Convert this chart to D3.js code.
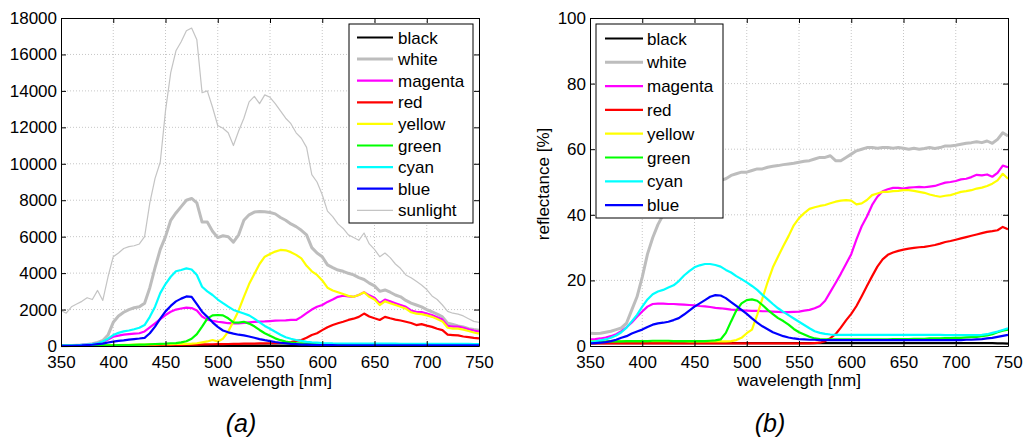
<!DOCTYPE html>
<html>
<head>
<meta charset="utf-8">
<script src="https://cdn.jsdelivr.net/npm/d3@7"></script>
<style>
  html, body { margin: 0; padding: 0; background: #fff; }
  svg { display: block; }
  text { font-family: "Liberation Sans", Arial, sans-serif; }
</style>
</head>
<body>
<svg id="chart" width="1024" height="439"></svg>
<script>
// ---------------- DATA ----------------
const wavelengths = [350,355,360,365,370,375,380,385,390,395,400,405,410,415,420,425,430,435,440,445,450,455,460,465,470,475,480,485,490,495,500,505,510,515,520,525,530,535,540,545,550,555,560,565,570,575,580,585,590,595,600,605,610,615,620,625,630,635,640,645,650,655,660,665,670,675,680,685,690,695,700,705,710,715,720,725,730,735,740,745,750];

const xTicks = [350,400,450,500,550,600,650,700,750];
const yTicksA = [0,2000,4000,6000,8000,10000,12000,14000,16000,18000];
const yTicksB = [0,20,40,60,80,100];

const seriesNamesA = ["black","white","magenta","red","yellow","green","cyan","blue","sunlight"];
const seriesNamesB = ["black","white","magenta","red","yellow","green","cyan","blue"];

// Panel (a): irradiance counts
const blackA = [20,20,20,20,20,20,20,20,20,20,20,20,20,20,20,20,20,20,20,20,20,20,20,20,20,20,20,20,20,20,20,20,20,20,20,20,20,20,20,20,20,20,20,20,20,20,20,20,20,20,20,20,20,20,20,20,20,20,20,20,20,20,20,20,20,20,20,20,20,20,20,20,20,20,20,20,20,20,20,20,20];
const whiteA = [20,20,30,40,50,80,120,200,300,600,1300,1650,1850,2000,2100,2150,2350,3200,4300,5300,6000,6900,7300,7650,8000,8100,7850,6800,6800,6300,5950,6050,6000,5700,6100,6900,7200,7350,7380,7370,7330,7250,7050,6900,6700,6550,6350,6100,5400,5100,4900,4450,4300,4170,4100,3990,3900,3750,3650,3450,3300,3000,3075,2950,2800,2700,2500,2350,2250,2150,2000,1880,1750,1600,1250,1180,1100,1050,950,900,860];
const magentaA = [20,25,30,40,60,80,100,140,200,350,510,570,620,650,680,700,800,1020,1245,1480,1700,1880,2000,2060,2110,2080,1950,1620,1450,1380,1330,1300,1250,1245,1245,1270,1300,1320,1340,1350,1370,1390,1400,1410,1430,1430,1600,1800,2000,2150,2250,2420,2550,2700,2760,2720,2700,2800,2950,2780,2650,2350,2550,2450,2350,2250,2150,1950,1880,1860,1780,1700,1580,1450,1100,1060,1060,1000,920,850,790];
const redA = [10,10,10,12,12,14,15,16,18,20,22,24,26,28,30,32,35,38,42,46,50,55,60,65,70,75,80,85,90,95,100,105,110,115,120,125,130,135,140,145,150,160,170,190,220,280,330,450,600,700,870,1030,1150,1250,1330,1430,1500,1600,1780,1620,1520,1430,1600,1520,1450,1400,1330,1260,1150,1200,1120,1050,950,870,620,600,580,520,490,450,420];
const yellowA = [10,12,15,18,20,25,30,35,40,45,50,55,60,65,70,75,80,85,90,95,100,105,110,115,120,130,150,200,250,330,250,400,790,1350,1950,2700,3400,3950,4500,4900,5050,5180,5270,5250,5150,5000,4810,4400,4100,3900,3600,3200,3050,2950,2850,2750,2700,2800,2950,2700,2550,2250,2450,2350,2250,2150,2050,1850,1780,1750,1680,1600,1480,1350,1000,950,950,900,820,740,680];
const greenA = [5,7,10,12,15,17,20,25,30,35,40,45,50,55,60,70,80,95,110,120,130,150,160,200,260,400,650,1060,1500,1680,1700,1680,1520,1300,1280,1330,1230,1080,880,700,560,420,320,240,190,160,140,125,110,105,100,98,95,92,90,88,86,84,82,80,78,76,75,74,73,72,71,70,69,68,67,66,65,64,63,62,61,61,60,60,60];
const cyanA = [30,30,40,40,60,80,100,140,250,400,600,720,800,850,920,1000,1150,1600,2160,2900,3400,3800,4100,4170,4260,4200,3900,3250,3000,2800,2550,2350,2160,1980,1880,1780,1680,1500,1300,1100,950,780,620,480,400,330,280,230,200,180,160,150,140,138,136,134,132,130,130,128,128,126,126,125,125,124,124,123,123,122,122,121,121,120,120,118,116,114,112,110,110];
const blueA = [10,10,15,20,30,50,70,100,130,190,240,280,310,350,380,410,450,700,1060,1500,1900,2200,2450,2600,2720,2700,2300,1880,1600,1300,1050,850,750,680,620,580,520,450,380,320,270,220,180,150,120,100,80,70,60,50,45,44,43,42,42,41,41,40,40,40,40,39,39,38,38,37,37,36,36,35,35,35,34,34,33,33,32,32,31,31,30];
const sunlightA = [1950,1800,2150,2300,2450,2650,2550,3050,2500,3800,4900,5100,5350,5450,5500,5600,6000,7850,9200,10100,12900,15000,16200,16700,17300,17450,16800,13900,14000,13100,12100,11950,11700,11000,11800,12500,13400,13700,13300,13780,13650,13300,12900,12500,12200,11700,11400,10900,9400,9000,8300,7400,7100,6700,6450,6100,5950,5800,6200,5600,5300,4900,5100,4850,4500,4250,3900,3750,3550,3350,3100,2750,2550,2250,1900,1800,1750,1650,1500,1350,1300];

// Panel (b): reflectance [%]
const blackB = [0.9,0.9,0.9,0.9,0.9,0.9,0.9,0.9,0.9,0.9,0.9,0.9,0.9,0.9,0.9,0.9,0.9,0.9,0.9,0.9,0.9,0.9,0.9,0.9,0.9,0.9,0.9,0.9,0.9,0.9,0.9,0.9,0.9,0.9,0.9,0.9,0.9,0.9,0.9,0.9,0.9,0.9,0.9,0.9,0.9,0.9,0.9,0.9,0.9,0.9,0.9,0.9,0.9,0.9,0.9,0.9,0.9,0.9,0.9,0.9,0.9,0.9,0.9,0.9,0.9,0.9,0.9,0.9,0.9,0.9,0.9,0.9,0.9,0.9,0.9,0.9,0.9,0.9,0.8,0.8,0.7];
const whiteB = [3.9,3.8,3.9,4.2,4.5,5.0,5.5,7.0,11,15,21,28,33,37,40,42,43.5,44.5,45.5,46.5,47,47.5,48,49,50,50.5,51,52,52.5,53,53,53.5,54,54,54.5,54.8,55,55.3,55.5,55.7,56,56.3,56.5,57,57.5,57.5,58,56.5,56.5,57.5,58.5,59.5,60,60.5,60.5,60.3,60.5,60.5,60.3,60.5,60.3,60,60.3,60,60.2,60.5,60.2,60.5,61,61,61.2,61.5,61.8,62,62.3,62,62.5,61.8,63,65,64];
const magentaB = [2.0,2.1,2.3,2.6,3.0,3.6,4.5,5.7,7.2,8.9,10.5,12.0,12.8,12.9,12.9,12.8,12.8,12.7,12.6,12.5,12.4,12.2,12.1,11.9,11.6,11.5,11.3,11.1,11.0,10.9,10.8,10.7,10.7,10.6,10.6,10.5,10.4,10.3,10.3,10.4,10.5,10.8,11.0,11.5,12.2,13.8,16.5,19.2,22.0,25.0,28.0,32.5,36.5,39.5,43.0,45.5,47.2,47.8,48.2,48.2,48.0,48.3,48.4,48.5,48.4,48.6,48.8,49.3,49.8,50.0,50.3,50.8,51.0,51.5,52.2,52.0,52.3,51.6,52.8,55.0,54.5];
const redB = [0.8,0.8,0.8,0.8,0.8,0.8,0.8,0.8,0.8,0.8,0.8,0.8,0.8,0.8,0.8,0.8,0.8,0.8,0.8,0.8,0.8,0.8,0.8,0.8,0.8,0.8,0.8,0.8,0.8,0.8,0.8,0.8,0.8,0.8,0.8,0.8,0.8,0.8,0.8,0.8,0.8,0.8,0.8,0.9,1.0,1.5,2.4,3.6,5.6,7.8,9.8,12.2,15.2,18.3,21.3,24.2,26.4,27.8,28.5,29.0,29.4,29.7,29.9,30.1,30.2,30.5,30.8,31.2,31.7,32.0,32.4,32.8,33.2,33.6,34.0,34.4,34.8,35.0,35.3,36.3,35.6];
const yellowB = [1.5,1.5,1.5,1.5,1.5,1.5,1.5,1.5,1.5,1.5,1.5,1.5,1.5,1.5,1.5,1.5,1.5,1.5,1.5,1.4,1.4,1.4,1.4,1.4,1.4,1.4,1.4,1.5,1.8,2.5,3.9,5.0,9.5,14.5,19.5,24.0,27.3,30.5,33.5,36.8,39.0,40.5,41.8,42.3,42.7,43.0,43.5,44.0,44.3,44.5,44.3,43.2,43.5,44.5,46.0,46.5,47.0,47.0,47.2,47.3,47.5,47.5,47.3,47.0,46.7,46.2,45.8,45.5,45.8,46.0,46.5,47.0,47.2,47.5,48.0,48.3,48.8,49.5,50.5,52.5,51.0];
const greenB = [1.3,1.3,1.3,1.3,1.4,1.4,1.4,1.5,1.5,1.5,1.5,1.5,1.6,1.6,1.6,1.6,1.5,1.5,1.5,1.5,1.5,1.5,1.5,1.6,1.7,2.0,4.0,7.5,10.8,13.0,14.0,14.2,13.8,12.5,11.0,9.7,8.5,7.6,6.5,5.2,4.2,3.5,2.8,2.3,2.1,2.0,2.0,2.0,2.0,2.0,2.0,2.0,2.0,2.0,2.0,2.0,2.0,2.0,2.1,2.1,2.1,2.1,2.2,2.2,2.2,2.3,2.3,2.3,2.4,2.4,2.5,2.5,2.6,2.7,2.8,3.0,3.2,3.6,4.2,4.7,5.0];
const cyanB = [1.3,1.4,1.7,2.0,2.5,3.2,4.2,5.6,7.5,9.5,12,14.2,15.8,16.6,17.1,17.8,18.5,19.8,21.5,22.8,24,24.6,25,25,24.7,24.2,23.2,22.4,21.3,20.4,19.4,18.3,17.1,15.6,14.2,12.8,11.5,10.4,9.4,8.4,7.4,6.4,5.4,4.5,4.0,3.7,3.5,3.4,3.4,3.4,3.4,3.4,3.4,3.4,3.4,3.4,3.4,3.4,3.4,3.4,3.4,3.4,3.4,3.4,3.4,3.4,3.4,3.4,3.3,3.3,3.3,3.3,3.3,3.3,3.3,3.4,3.6,4.0,4.4,4.9,5.4];
const blueB = [0.8,0.9,1.0,1.2,1.5,1.9,2.5,3.0,3.8,4.4,5.0,5.8,6.5,6.9,7.1,7.4,7.9,8.5,9.6,10.8,12.0,13.0,14.0,15.0,15.5,15.4,14.6,13.4,12.2,11.0,9.8,8.4,7.1,6.0,5.1,4.2,3.6,3.0,2.6,2.3,2.1,2.0,1.9,1.9,1.8,1.8,1.8,1.8,1.8,1.8,1.8,1.8,1.8,1.8,1.8,1.8,1.8,1.8,1.8,1.8,1.8,1.8,1.8,1.8,1.8,1.8,1.8,1.8,1.8,1.8,1.8,1.8,1.9,1.9,2.0,2.1,2.3,2.5,2.8,3.1,3.4];

// ---------------- STYLE ----------------
const colors = {black:"#000000", white:"#bdbdbd", magenta:"#ff00ff", red:"#ff0000",
  yellow:"#ffff00", green:"#00ff00", cyan:"#00ffff", blue:"#0000ff", sunlight:"#c4c4c4"};
const widths = {black:2.2, white:3, magenta:2.2, red:2.2, yellow:2.2, green:2.2, cyan:2.2, blue:2.2, sunlight:1.2};

const svg = d3.select("#chart");

function drawPanel(opt) {
  const x = d3.scaleLinear().domain([350, 750]).range([opt.left, opt.right]);
  const y = d3.scaleLinear().domain([0, opt.ymax]).range([opt.bottom, opt.top]);
  const g = svg.append("g");

  // grid
  g.append("g").selectAll("line").data(xTicks.slice(1, -1)).join("line")
    .attr("x1", d => x(d)).attr("x2", d => x(d))
    .attr("y1", opt.top).attr("y2", opt.bottom)
    .attr("stroke", "#b8b8b8").attr("stroke-width", 0.8).attr("stroke-dasharray", "1,2");
  g.append("g").selectAll("line").data(opt.yTicks.slice(1, -1)).join("line")
    .attr("y1", d => y(d)).attr("y2", d => y(d))
    .attr("x1", opt.left).attr("x2", opt.right)
    .attr("stroke", "#b8b8b8").attr("stroke-width", 0.8).attr("stroke-dasharray", "1,2");

  // lines
  const line = d3.line().x((d, i) => x(wavelengths[i])).y(d => y(d));
  opt.series.forEach(s => {
    g.append("path").datum(s.values)
      .attr("fill", "none")
      .attr("stroke", colors[s.name])
      .attr("stroke-width", widths[s.name])
      .attr("stroke-linejoin", "round")
      .attr("d", line);
  });

  // axes (MATLAB-like box with inward ticks)
  const fmt = d3.format("d");
  const ax = (axis) => axis.tickSizeOuter(0);
  const bottom = g.append("g").attr("transform", `translate(0,${opt.bottom})`)
    .call(ax(d3.axisBottom(x).tickValues(xTicks).tickFormat(fmt).tickSizeInner(-5).tickPadding(10)));
  g.append("g").attr("transform", `translate(0,${opt.top})`)
    .call(ax(d3.axisTop(x).tickValues(xTicks).tickFormat("").tickSizeInner(-5)));
  g.append("g").attr("transform", `translate(${opt.left},0)`)
    .call(ax(d3.axisLeft(y).tickValues(opt.yTicks).tickFormat(fmt).tickSizeInner(-5).tickPadding(4)));
  g.append("g").attr("transform", `translate(${opt.right},0)`)
    .call(ax(d3.axisRight(y).tickValues(opt.yTicks).tickFormat("").tickSizeInner(-5)));
  g.selectAll(".domain").attr("stroke", "#000").attr("stroke-width", 1);
  g.selectAll(".tick line").attr("stroke", "#000");
  g.selectAll(".tick text").attr("font-size", 17).attr("fill", "#000")
    .attr("font-family", "'Liberation Sans', Arial, sans-serif");
  bottom.selectAll(".tick text").attr("dy", "0.71em");

  // x label
  g.append("text").attr("x", (opt.left + opt.right) / 2).attr("y", 386)
    .attr("text-anchor", "middle").attr("font-size", 17).text("wavelength [nm]");
  if (opt.ylabel) {
    g.append("text").attr("transform", `translate(${opt.ylabelX},${(opt.top + opt.bottom) / 2 + 2}) rotate(-90)`)
      .attr("text-anchor", "middle").attr("font-size", 17).text(opt.ylabel);
  }

  // legend
  const L = opt.legend;
  const lg = g.append("g");
  lg.append("rect").attr("x", L.x).attr("y", L.y).attr("width", L.w).attr("height", L.h)
    .attr("fill", "#fff").attr("stroke", "#000").attr("stroke-width", 1);
  opt.series.forEach((s, i) => {
    const cy = L.firstRow + i * L.step;
    lg.append("line").attr("x1", L.lineX1).attr("x2", L.lineX2).attr("y1", cy).attr("y2", cy)
      .attr("stroke", colors[s.name]).attr("stroke-width", widths[s.name]);
    lg.append("text").attr("x", L.textX).attr("y", cy).attr("dy", "0.36em")
      .attr("font-size", 17).text(s.name);
  });

  // caption
  svg.append("text").attr("x", opt.captionX).attr("y", 432).attr("text-anchor", "middle")
    .attr("font-family", "Lato, 'Open Sans', sans-serif").attr("font-style", "italic")
    .attr("font-size", 25).text(opt.caption);
}

const valuesA = {black: blackA, white: whiteA, magenta: magentaA, red: redA, yellow: yellowA,
  green: greenA, cyan: cyanA, blue: blueA, sunlight: sunlightA};
const valuesB = {black: blackB, white: whiteB, magenta: magentaB, red: redB, yellow: yellowB,
  green: greenB, cyan: cyanB, blue: blueB};

drawPanel({
  left: 61, right: 479, top: 18, bottom: 346, ymax: 18000, yTicks: yTicksA,
  series: seriesNamesA.map(n => ({name: n, values: valuesA[n]})),
  legend: {x: 349, y: 24, w: 124, h: 199, firstRow: 37.5, step: 21.6, lineX1: 357, lineX2: 393, textX: 398},
  caption: "(a)", captionX: 241
});
drawPanel({
  left: 590, right: 1008, top: 18, bottom: 346, ymax: 100, yTicks: yTicksB,
  series: seriesNamesB.map(n => ({name: n, values: valuesB[n]})),
  ylabel: "reflectance [%]", ylabelX: 549,
  legend: {x: 596, y: 24, w: 127, h: 194, firstRow: 38.5, step: 23.8, lineX1: 605, lineX2: 643, textX: 647},
  caption: "(b)", captionX: 770
});
</script>
</body>
</html>
